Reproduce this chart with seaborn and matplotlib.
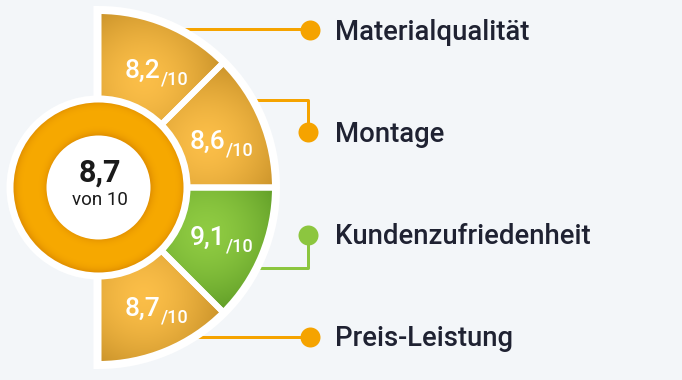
import numpy as np
import pandas as pd
import matplotlib
matplotlib.use("Agg")
import matplotlib.pyplot as plt
from matplotlib.patches import Wedge, Circle
from matplotlib.colors import to_rgb
import seaborn as sns

# ---------------- data ----------------
categories = ["Materialqualität", "Montage", "Kundenzufriedenheit", "Preis-Leistung"]
scores = [8.2, 8.6, 9.1, 8.7]
overall_score = 8.7
max_score = 10
center_caption = "von"

# ---------------- style ----------------
BG = "#F3F6F9"
ORANGE = "#F5A300"
GREEN = "#8CC63F"
ORANGE_LIGHT, ORANGE_DARK = "#FBBE48", "#B07C1A"
GREEN_LIGHT, GREEN_DARK = "#8FCB42", "#478519"
RING_LIGHT, RING_DARK = "#F7A900", "#E39200"
TEXT = "#1F2232"

sns.set_theme(style="white")
plt.rcParams["font.family"] = ["Roboto", "DejaVu Sans"]

W, H = 682, 380
DPI = 100
PX = 72 / DPI  # points per pixel

fig = plt.figure(figsize=(W / DPI, H / DPI), dpi=DPI, facecolor=BG)
ax = fig.add_axes([0, 0, 1, 1])
ax.set_facecolor(BG)


def fmt(v):
    return f"{v:.1f}".replace(".", ",")


def Y(y_down):
    return H - y_down


cx, cy = 98.5, Y(187.5)
R = 176.5
n = len(scores)
span = 180.0 / n
best = int(np.argmax(scores))

# grid for gradients
xs = np.arange(cx - 2, cx + R + 3, 0.5)
ys = np.arange(cy - R - 3, cy + R + 3, 0.5)
GX, GY = np.meshgrid(xs, ys)
ext = (xs[0], xs[-1], ys[0], ys[-1])


def mix(c1, c2, t):
    a = np.array(to_rgb(c1))
    b = np.array(to_rgb(c2))
    return a[None, None, :] * (1 - t[..., None]) + b[None, None, :] * t[..., None]


# white backing shape
back = Wedge((cx, cy), R, -90, 90, facecolor="white", edgecolor="white",
             linewidth=10 * PX, joinstyle="miter", zorder=2)
ax.add_patch(back)

# segments
for i, v in enumerate(scores):
    th1 = 90 - span * (i + 1)
    th2 = 90 - span * i
    mid = np.deg2rad((th1 + th2) / 2)
    light, dark = (GREEN_LIGHT, GREEN_DARK) if i == best else (ORANGE_LIGHT, ORANGE_DARK)
    clip = Wedge((cx, cy), R, th1, th2, facecolor="none", edgecolor="none", zorder=3)
    ax.add_patch(clip)
    gx = cx + 0.66 * R * np.cos(mid)
    gy = cy + 0.66 * R * np.sin(mid)
    d = np.hypot(GX - gx, GY - gy) / (0.6 * R)
    t = np.clip(d, 0, 1) ** 1.6
    im = ax.imshow(mix(light, dark, t), extent=ext, origin="lower",
                   interpolation="bilinear", zorder=3)
    im.set_clip_path(clip)
    ax.add_patch(Wedge((cx, cy), R, th1, th2, facecolor="none", edgecolor="white",
                       linewidth=6 * PX, joinstyle="miter", zorder=4))

    # value label
    ang = np.deg2rad(np.rad2deg(mid) * 0.94)
    px = cx + 133 * np.cos(ang)
    py_down = H - (cy + 133 * np.sin(ang))
    split = px + 3
    ax.text(split - 0.5, Y(py_down + 9), fmt(v), color="white", fontsize=19,
            fontweight="medium", ha="right", va="baseline", zorder=8)
    ax.text(split + 0.5, Y(py_down + 16), f"/{max_score}", color="white", fontsize=13,
            fontweight="medium", ha="left", va="baseline", zorder=8)

# ring in the middle
ax.add_patch(Circle((cx, cy), 92, facecolor="white", edgecolor="none", zorder=5))
ring_clip = Circle((cx, cy), 85, facecolor="none", edgecolor="none", zorder=6)
ax.add_patch(ring_clip)
xs2 = np.arange(cx - 90, cx + 90, 0.5)
ys2 = np.arange(cy - 90, cy + 90, 0.5)
RX, RY = np.meshgrid(xs2, ys2)
rr = np.hypot(RX - cx, RY - cy)
tr = np.clip(np.abs(rr - 68.5) / 16.5, 0, 1) ** 4
im = ax.imshow(mix(RING_LIGHT, RING_DARK, tr), extent=(xs2[0], xs2[-1], ys2[0], ys2[-1]),
               origin="lower", interpolation="bilinear", zorder=6)
im.set_clip_path(ring_clip)
ax.add_patch(Circle((cx, cy), 52, facecolor="white", edgecolor="none", zorder=7))

ax.text(cx + 1, Y(182), fmt(overall_score), color="#1A1A1A", fontsize=22, fontweight="bold",
        ha="center", va="baseline", zorder=8)
ax.text(cx + 1, Y(205), f"{center_caption} {max_score}", color="#1A1A1A", fontsize=13.5,
        ha="center", va="baseline", zorder=8)

# connectors + labels (layout positions, top-down pixel coordinates)
anchor_y = [29, 100, 268, 337]
dot_y = [30, 132, 235, 337]
dot_x = [310, 308, 308, 310]
label_x = 335

for i, cat in enumerate(categories):
    col = GREEN if i == best else ORANGE
    path = pd.DataFrame({
        "x": [cx, dot_x[i], dot_x[i]],
        "y": [Y(anchor_y[i]), Y(anchor_y[i]), Y(dot_y[i])],
    })
    sns.lineplot(data=path, x="x", y="y", sort=False, estimator=None, ax=ax,
                 color=col, linewidth=3 * PX, zorder=1)
    sns.scatterplot(x=[dot_x[i]], y=[Y(dot_y[i])], ax=ax, color=col, s=(20 * PX) ** 2,
                    linewidth=0, zorder=9)
    ax.text(label_x, Y(dot_y[i] + 9.5), cat, color=TEXT, fontsize=19.8, fontweight="medium",
            ha="left", va="baseline", zorder=9)

ax.set_xlim(0, W)
ax.set_ylim(0, H)
ax.set_aspect("equal")
ax.axis("off")
fig.savefig("out.png", dpi=DPI, facecolor=BG)
